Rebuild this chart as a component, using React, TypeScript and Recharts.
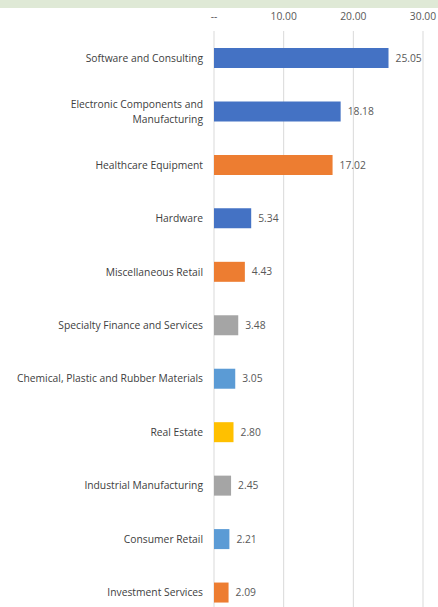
import React from "react";
import { BarChart, Bar, XAxis, YAxis, CartesianGrid, Cell, LabelList } from "recharts";

const categories = [
  "Software and Consulting",
  "Electronic Components and\nManufacturing",
  "Healthcare Equipment",
  "Hardware",
  "Miscellaneous Retail",
  "Specialty Finance and Services",
  "Chemical, Plastic and Rubber Materials",
  "Real Estate",
  "Industrial Manufacturing",
  "Consumer Retail",
  "Investment Services",
];
const values = [25.05, 18.18, 17.02, 5.34, 4.43, 3.48, 3.05, 2.8, 2.45, 2.21, 2.09];
const barColors = [
  "#4472C4", "#4472C4", "#ED7D31", "#4472C4", "#ED7D31", "#A5A5A5",
  "#5B9BD5", "#FFC000", "#A5A5A5", "#5B9BD5", "#ED7D31",
];
const xTicks = [0, 10, 20, 30];

const data = categories.map((c, i) => ({ name: c, value: values[i] }));

const FONT = "'Open Sans', 'Noto Sans', sans-serif";

const CatTick = (props: any) => {
  const { x, y, payload } = props;
  const lines = String(payload.value).split("\n");
  const lh = 15;
  const start = -((lines.length - 1) * lh) / 2;
  return (
    <text x={x} y={y} textAnchor="end" fill="#404040" fontSize={10.3} fontFamily={FONT}>
      {lines.map((l: string, i: number) => (
        <tspan key={i} x={x} dy={i === 0 ? start + 4 : lh}>
          {l}
        </tspan>
      ))}
    </text>
  );
};

export default function App() {
  return (
    <div style={{ position: "absolute", left: 0, top: 0, width: 438, height: 607, overflow: "hidden", background: "#fff" }}>
      <div style={{ position: "absolute", left: 0, top: 0, width: 438, height: 8, background: "#DFE9D6" }} />
      <BarChart
        layout="vertical"
        width={438}
        height={619}
        data={data}
        margin={{ top: 0, right: 15, bottom: 0, left: 0 }}
        barSize={20}
      >
        <CartesianGrid horizontal={false} stroke="#D9D9D9" />
        <XAxis
          type="number"
          orientation="top"
          domain={[0, 30]}
          ticks={xTicks}
          height={31}
          axisLine={false}
          tickLine={false}
          tickSize={0}
          tickMargin={11}
          interval={0}
          tickFormatter={(v: number) => (v === 0 ? "--" : v.toFixed(2))}
          tick={{ fill: "#595959", fontSize: 10.3, fontFamily: FONT }}
        />
        <YAxis
          type="category"
          dataKey="name"
          width={214}
          axisLine={false}
          tickLine={false}
          tickSize={0}
          tickMargin={11}
          interval={0}
          tick={<CatTick />}
        />
        <Bar dataKey="value" isAnimationActive={false}>
          {data.map((d, i) => (
            <Cell key={i} fill={barColors[i]} />
          ))}
          <LabelList
            dataKey="value"
            position="right"
            offset={7}
            formatter={(v: any) => Number(v).toFixed(2)}
            fill="#595959"
            fontSize={10.3}
            fontFamily={FONT}
          />
        </Bar>
      </BarChart>
    </div>
  );
}
